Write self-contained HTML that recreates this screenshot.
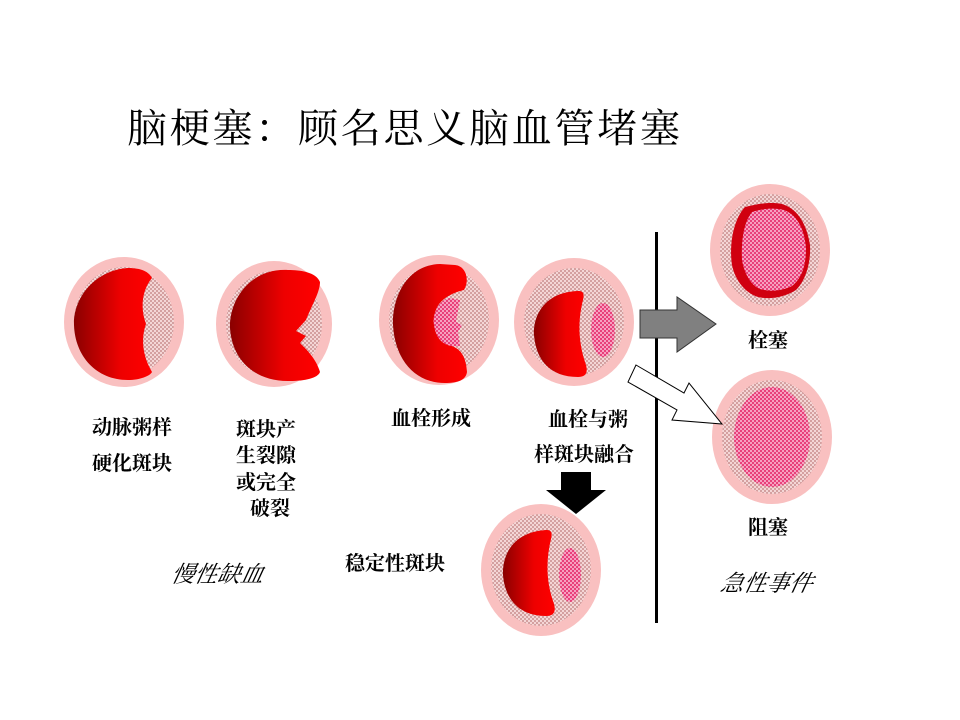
<!DOCTYPE html>
<html><head><meta charset="utf-8"><style>
html,body{margin:0;padding:0;background:#fff;}
svg{display:block;}
text{font-family:"Liberation Serif","Noto Serif CJK SC","WenQuanYi Zen Hei",serif;fill:#000;}
</style></head><body>
<svg width="960" height="720" viewBox="0 0 960 720">
<defs>
<pattern id="pl" width="4" height="4" patternUnits="userSpaceOnUse">
<rect width="4" height="4" fill="#d4a0a0"/><rect x="0" y="0" width="2" height="2" fill="#f4d6d6"/><rect x="2" y="2" width="2" height="2" fill="#f4d6d6"/>
</pattern>
<pattern id="th" width="4" height="4" patternUnits="userSpaceOnUse">
<rect width="4" height="4" fill="#e8407a"/><rect x="0" y="0" width="2" height="2" fill="#f7a0c0"/><rect x="2" y="2" width="2" height="2" fill="#f7a0c0"/>
</pattern>
<linearGradient id="rg" x1="0" x2="1" y1="0" y2="0">
<stop offset="0" stop-color="#8a0000"/><stop offset="0.6" stop-color="#ee0000"/><stop offset="1" stop-color="#ff0000"/>
</linearGradient>
</defs>

<text x="127" y="142" font-size="40" textLength="553" lengthAdjust="spacing">脑梗塞：顾名思义脑血管堵塞</text>

<!-- circle 1 -->
<ellipse cx="124" cy="322" rx="60" ry="65" fill="#f9c0c0"/>
<ellipse cx="124" cy="322" rx="50" ry="55" fill="url(#pl)"/>
<path d="M128,268 C95,270 73,298 74,325 C75,356 96,380 128,380 C140,380 150,376 152,372 C142,355 141,338 146,324 C140,308 142,290 152,278 C148,270 138,268 128,268 Z" fill="url(#rg)"/>

<!-- circle 2 -->
<ellipse cx="274" cy="324" rx="58" ry="63" fill="#f9c0c0"/>
<ellipse cx="274" cy="324" rx="48" ry="53" fill="url(#pl)"/>
<path d="M288,270 C250,268 229,300 230,328 C232,360 255,382 290,381 C305,381 318,378 320,372 C316,358 305,348 300,343 L306,336 L296,331 L306,320 C312,305 320,292 320,282 C316,272 300,270 288,270 Z" fill="url(#rg)"/>

<!-- circle 3 -->
<ellipse cx="439" cy="320" rx="60" ry="65" fill="#f9c0c0"/>
<ellipse cx="439" cy="320" rx="50" ry="55" fill="url(#pl)"/>
<path d="M440,264 C405,265 392,300 393,325 C395,360 415,383 445,383 C458,383 466,380 467,372 C466,358 462,350 452,346 C440,340 432,325 436,310 C440,298 455,292 464,290 C470,280 466,266 455,265 Z" fill="url(#rg)"/>
<path d="M450,298 C438,300 432,315 434,325 C436,340 445,348 460,346 L458,332 L462,325 L456,322 L460,300 Z" fill="url(#th)"/>

<!-- circle 4 -->
<ellipse cx="574" cy="322" rx="60" ry="64" fill="#f9c0c0"/>
<ellipse cx="574" cy="322" rx="50" ry="54" fill="url(#pl)"/>
<path d="M578,291 C545,292 533,315 534,335 C536,360 550,377 578,377 C588,377 588,370 585,362 C578,340 578,320 583,300 C585,292 582,291 578,291 Z" fill="url(#rg)"/>
<ellipse cx="603" cy="330" rx="12" ry="27" fill="url(#th)"/>

<!-- bottom circle -->
<ellipse cx="541" cy="570" rx="60" ry="66" fill="#f9c0c0"/>
<ellipse cx="541" cy="570" rx="50" ry="56" fill="url(#pl)"/>
<path d="M546,530 C513,532 502,555 503,575 C505,600 520,616 546,616 C556,616 556,609 553,601 C546,580 546,560 551,539 C553,531 550,530 546,530 Z" fill="url(#rg)"/>
<ellipse cx="570" cy="575" rx="11" ry="27" fill="url(#th)"/>

<!-- top right -->
<ellipse cx="770" cy="250" rx="60" ry="66" fill="#f9c0c0"/>
<ellipse cx="770" cy="250" rx="50" ry="56" fill="url(#pl)"/>
<path d="M745,207 C760,203 772,202 782,204 C795,208 806,220 810,245 C811,262 806,280 796,290 C785,297 770,300 758,297 C745,293 735,280 732,265 C729,245 733,220 745,207 Z" fill="#d00010"/>
<path d="M752,212 C765,208 775,208 784,210 C797,215 804,228 806,248 C806,265 802,278 792,286 C782,291 770,292 760,289 C750,285 744,272 742,260 C741,240 744,222 752,212 Z" fill="url(#th)"/>

<!-- bottom right -->
<ellipse cx="772" cy="437" rx="60" ry="67" fill="#f9c0c0"/>
<ellipse cx="772" cy="437" rx="50" ry="57" fill="url(#pl)"/>
<ellipse cx="772" cy="437" rx="38" ry="50" fill="url(#th)"/>

<!-- vertical line -->
<rect x="655" y="232" width="3" height="391" fill="#000"/>

<!-- grey arrow -->
<polygon points="640,310 677,310 677,297 716,324 677,352 677,338 640,338" fill="#808080" stroke="#333" stroke-width="1"/>
<!-- white diagonal arrow -->
<polygon points="636,365 684,393 689,383 722,424 672,420 677,410 628,382" fill="#fff" stroke="#000" stroke-width="1"/>
<!-- black down arrow -->
<polygon points="561,472 591,472 591,490 606,490 576,514 546,490 561,490" fill="#000"/>

<g font-size="20" font-weight="bold">
<text x="92" y="434">动脉粥样</text>
<text x="92" y="470">硬化斑块</text>
<text x="236" y="436">斑块产</text>
<text x="236" y="462">生裂隙</text>
<text x="236" y="489">或完全</text>
<text x="250" y="515">破裂</text>
<text x="391" y="425">血栓形成</text>
<text x="548" y="426">血栓与粥</text>
<text x="534" y="461">样斑块融合</text>
<text x="345" y="570">稳定性斑块</text>
<text x="748" y="347">栓塞</text>
<text x="748" y="534">阻塞</text>
</g>
<g font-size="23" font-style="italic">
<text x="172" y="582" transform="skewX(-12) translate(122,0)">慢性缺血</text>
<text x="720" y="591" transform="skewX(-12) translate(125,0)">急性事件</text>
</g>
</svg>
</body></html>
